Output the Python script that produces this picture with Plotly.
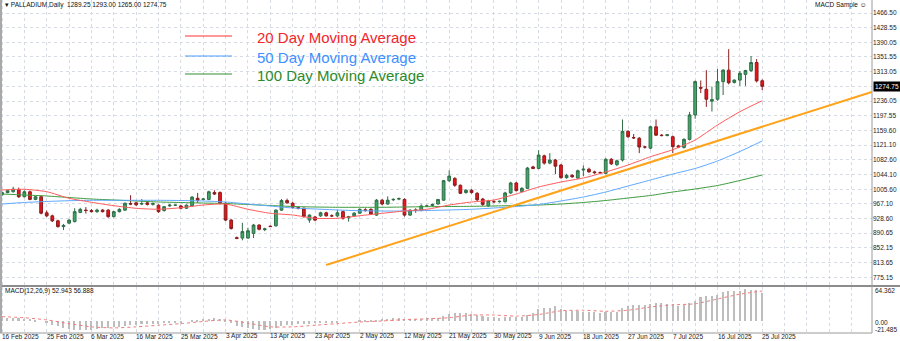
import plotly.graph_objects as go

# ---- daily OHLC, one entry per bar (bar 0 = 16 Feb 2025) ----
opens = [991, 997, 999, 1005, 986, 999, 979, 986, 944, 936,
         923, 908, 917, 921, 945, 951, 950, 947, 951, 951,
         934, 947, 951, 968, 970, 967, 970, 966, 964, 950,
         962, 964, 962, 956, 962, 982, 979, 979, 997, 997,
         969, 925, 879, 878, 878, 890, 912, 900, 909, 910,
         951, 976, 969, 958, 956, 925, 933, 936, 944, 936,
         936, 947, 931, 936, 943, 952, 953, 938, 977, 967,
         978, 980, 979, 938, 951, 950, 962, 963, 967, 977,
         1028, 1034, 1016, 997, 1003, 995, 980, 962, 973, 973,
         973, 996, 1022, 1000, 1008, 1064, 1060, 1093, 1074, 1082,
         1069, 1036, 1042, 1035, 1056, 1058, 1051, 1049, 1047, 1084,
         1070, 1082, 1157, 1141, 1139, 1116, 1113, 1169, 1147, 1146,
         1143, 1119, 1115, 1136, 1200, 1272, 1267, 1236, 1241, 1287,
         1317, 1285, 1291, 1306, 1316, 1337, 1289.25]
highs = [1000, 1003, 1012, 1010, 1003, 1002, 988, 989, 950, 939,
         926, 915, 927, 956, 957, 959, 954, 955, 954, 954,
         949, 956, 971, 990, 973, 980, 975, 971, 966, 962,
         967, 966, 964, 966, 988, 996, 983, 1002, 1003, 1000,
         972, 928, 882, 918, 905, 915, 914, 905, 911, 953,
         980, 981, 973, 961, 958, 940, 936, 947, 947, 940,
         952, 950, 936, 946, 956, 956, 956, 980, 980, 987,
         982, 984, 982, 953, 956, 966, 965, 968, 980, 1030,
         1055, 1037, 1018, 1006, 1006, 998, 983, 978, 977, 976,
         999, 1025, 1025, 1011, 1064, 1067, 1108, 1096, 1100, 1085,
         1072, 1046, 1045, 1057, 1068, 1062, 1054, 1052, 1087, 1087,
         1083, 1188, 1160, 1150, 1142, 1119, 1172, 1188, 1150, 1150,
         1146, 1122, 1139, 1208, 1290, 1290, 1317, 1274, 1320, 1320,
         1372, 1293, 1315, 1318, 1354, 1346, 1293.00]
lows = [988, 995, 997, 983, 984, 977, 977, 940, 933, 920,
        905, 899, 915, 919, 943, 942, 945, 944, 945, 931,
        932, 945, 949, 964, 962, 964, 963, 963, 944, 947,
        960, 962, 953, 954, 960, 970, 977, 977, 991, 966,
        922, 900, 875, 872, 876, 878, 898, 896, 907, 908,
        949, 968, 955, 953, 931, 918, 922, 933, 934, 933,
        933, 926, 921, 933, 941, 947, 939, 936, 964, 965,
        975, 977, 934, 936, 944, 948, 959, 961, 965, 975,
        1025, 1012, 993, 994, 994, 975, 962, 960, 970, 971,
        971, 993, 1000, 998, 1006, 1058, 1058, 1070, 1071, 1045,
        1033, 1033, 1036, 1033, 1040, 1049, 1046, 1046, 1045, 1069,
        1066, 1078, 1140, 1137, 1100, 1112, 1110, 1145, 1144, 1144,
        1100, 1113, 1112, 1133, 1190, 1257, 1221, 1209, 1237, 1252,
        1280, 1282, 1276, 1276, 1312, 1285, 1265.00]
closes = [997, 1002, 1006, 986, 999, 979, 986, 943, 936, 923,
          908, 911, 925, 947, 953, 950, 947, 951, 947, 934,
          947, 953, 969, 967, 965, 968, 966, 968, 947, 960,
          964, 964, 956, 964, 985, 977, 980, 999, 993, 969,
          925, 903, 877, 895, 897, 912, 901, 902, 908, 951,
          976, 970, 958, 956, 934, 938, 925, 944, 936, 936,
          944, 930, 934, 943, 953, 950, 941, 977, 967, 977,
          979, 981, 938, 951, 951, 962, 962, 966, 979, 1028,
          1040, 1016, 995, 1003, 997, 978, 966, 975, 973, 974,
          996, 1022, 1002, 1008, 1061, 1060, 1095, 1074, 1082, 1066,
          1036, 1042, 1038, 1054, 1058, 1051, 1049, 1049, 1084, 1072,
          1080, 1157, 1143, 1140, 1116, 1116, 1169, 1147, 1146, 1148,
          1117, 1116, 1136, 1200, 1287, 1270, 1241, 1240, 1287, 1317,
          1284, 1291, 1309, 1316, 1337, 1289, 1274.75]
bars = list(range(len(closes)))

# ---- moving averages, sampled every 4 bars ----
ma_bars = list(range(0, 137, 4))
ma20 = [1003.7, 1005.5, 999.2, 982.0, 971.5, 962.6, 955.8, 953.2, 957.4, 964.4,
        967.0, 953.2, 942.7, 938.3, 929.6, 929.6, 936.4, 942.7, 948.7, 953.2,
        964.4, 972.3, 977.5, 993.2, 1011.5, 1024.6, 1035.0, 1050.7, 1069.0, 1090.7,
        1109.0, 1134.4, 1173.6, 1208.4, 1237.2]
ma50 = [967.0, 971.0, 973.6, 975.7, 976.7, 976.7, 976.7, 976.7, 976.2, 974.9,
        972.3, 967.0, 961.8, 956.6, 954.0, 951.4, 949.5, 948.7, 948.7, 950.0,
        951.4, 953.2, 956.6, 960.5, 965.7, 974.9, 985.3, 998.4, 1014.1, 1029.8,
        1045.5, 1059.9, 1079.5, 1104.3, 1131.8]
ma100 = [993.2, 990.6, 988.0, 984.0, 980.1, 977.5, 974.9, 972.3, 970.9, 969.6,
         968.3, 965.7, 963.1, 960.5, 959.2, 958.4, 958.4, 958.4, 959.2, 960.0,
         960.5, 961.0, 961.8, 963.1, 964.4, 967.0, 971.0, 976.2, 982.7, 989.3,
         998.4, 1006.3, 1015.4, 1028.5, 1042.9]

# ---- trend line anchors (bar index, price) ----
trend_bars = [58, 155.6]
trend_prices = [807.5, 1260.0]

# ---- MACD(12,26,9) ----
macd_main = [7, 7, 6, 6, 5, 4, 3, 0, -3, -6,
             -9, -12, -14, -15, -16, -16, -15, -14, -13, -12,
             -11, -10, -9, -7, -6, -5, -4, -4, -4, -3,
             -3, -2, -1, 0, 2, 3, 4, 5, 6, 5,
             2, -3, -8, -11, -13, -14, -15, -15, -14, -12,
             -9, -7, -6, -5, -5, -4, -3, -2, -2, -1,
             -1, 0, 0, 0, 1, 1, 1, 3, 4, 5,
             6, 6, 5, 5, 5, 5, 6, 6, 7, 10,
             14, 15, 15, 15, 14, 12, 10, 8, 9, 6,
             8, 9, 8, 9, 12, 15, 23, 25, 26, 28,
             24, 20, 20, 20, 18, 18, 17, 15, 18, 18,
             18, 25, 29, 31, 31, 31, 33, 34, 34, 33,
             33, 28, 30, 34, 39, 45, 47, 48, 50, 55,
             57, 57, 57, 60, 59, 58, 52.943]
signal_bars = list(range(0, 137, 4))
macd_signal = [9, 7, 3, -4, -10, -12, -10, -7, -4, 0,
               3, -3, -10, -10, -7, -4, -1, 1, 3.5, 5,
               7, 12, 12, 10, 13, 20, 21, 19, 21, 27,
               31, 33, 42, 51, 56.888]

# ---- axis labels ----
date_ticks = list(range(0, 137, 8))
date_labels = ["16 Feb 2025", "25 Feb 2025", "6 Mar 2025", "16 Mar 2025", "25 Mar 2025",
               "3 Apr 2025", "13 Apr 2025", "23 Apr 2025", "2 May 2025", "12 May 2025",
               "21 May 2025", "30 May 2025", "9 Jun 2025", "18 Jun 2025", "27 Jun 2025",
               "7 Jul 2025", "16 Jul 2025", "25 Jul 2025"]
price_ticks = [1466.50, 1428.55, 1390.05, 1351.55, 1313.05, 1274.75, 1236.05, 1197.55,
               1159.60, 1121.10, 1082.60, 1044.10, 1005.60, 967.10, 928.60, 890.65,
               852.15, 813.65, 775.15]
macd_range = [-21.485, 64.362]
macd_tick_text = ["64.362", "0.00", "-21.485"]

W, H = 900, 341
MB = 8
PH = H - MB              # plotting height in px
PLOT_R = 872             # right edge of the chart panes in px
MAIN_BOTTOM = 285
MACD_TOP = 287

FONT = "Liberation Sans, Arial, sans-serif"
GRID = "#d6dbe4"
last_close = closes[-1]


def py(px):
    return 1 - px / PH


fig = go.Figure()

fig.add_trace(go.Candlestick(
    x=bars, open=opens, high=highs, low=lows, close=closes,
    increasing=dict(fillcolor="#3fa869", line=dict(color="#2f6d47", width=1)),
    decreasing=dict(fillcolor="#e8141b", line=dict(color="#8a1d1d", width=1)),
    whiskerwidth=0, showlegend=False, hoverinfo="skip",
    xaxis="x", yaxis="y"))

for vals, col in ((ma100, "#3d9a3d"), (ma50, "#5ea8ff"), (ma20, "#ff5a5a")):
    fig.add_trace(go.Scatter(x=ma_bars, y=vals, mode="lines",
                             line=dict(color=col, width=1, shape="spline", smoothing=0.6),
                             showlegend=False, hoverinfo="skip", xaxis="x", yaxis="y"))

fig.add_trace(go.Scatter(x=trend_bars, y=trend_prices, mode="lines",
                         line=dict(color="#ffa31a", width=2),
                         showlegend=False, hoverinfo="skip", xaxis="x", yaxis="y"))

fig.add_trace(go.Bar(x=bars, y=macd_main, width=0.28, marker=dict(color="#bdbdbd", line=dict(width=0)),
                     showlegend=False, hoverinfo="skip", xaxis="x2", yaxis="y2"))
fig.add_trace(go.Scatter(x=signal_bars, y=macd_signal, mode="lines",
                         line=dict(color="#f07c7c", width=1, dash="dot", shape="spline", smoothing=0.6),
                         showlegend=False, hoverinfo="skip", xaxis="x2", yaxis="y2"))

x_lo = -2 / 5.59
x_hi = x_lo + PLOT_R / 5.59
dom_x = [0, PLOT_R / W]

axis_common = dict(range=[x_lo, x_hi], domain=dom_x, showline=False, zeroline=False,
                   tickmode="array", tickvals=date_ticks, showticklabels=False, ticks="",
                   showgrid=True, gridcolor=GRID, griddash="dot", gridwidth=1,
                   minor=dict(tickmode="linear", tick0=0, dtick=4, showgrid=True,
                              gridcolor=GRID, griddash="dot", gridwidth=1))

fig.update_layout(
    width=W, height=H,
    margin=dict(l=0, r=0, t=0, b=MB, autoexpand=False),
    paper_bgcolor="white", plot_bgcolor="white",
    bargap=0,
    xaxis=dict(axis_common, anchor="y", rangeslider=dict(visible=False)),
    xaxis2=dict(axis_common, anchor="y2", matches="x"),
    yaxis=dict(domain=[py(MAIN_BOTTOM), 1], range=[1500.5 - 285 * 2.615, 1500.5],
               side="right", anchor="x", tickmode="array", tickvals=price_ticks,
               ticktext=["" if v == last_close else f"{v:.2f}" for v in price_ticks],
               ticks="", ticklen=0,
               showgrid=True, gridcolor=GRID, griddash="dot", zeroline=False,
               tickfont=dict(family=FONT, size=6.5, color="#222")),
    yaxis2=dict(domain=[0, py(MACD_TOP)], range=macd_range, side="right",
                anchor="x2", showticklabels=False, ticks="",
                showgrid=False, zeroline=False),
)

shapes = [
    # pane separators and borders
    dict(type="line", xref="paper", yref="paper", x0=0, x1=1, y0=py(286), y1=py(286),
         line=dict(color="#8c8c8c", width=2)),
    dict(type="line", xref="paper", yref="paper", x0=PLOT_R / W, x1=PLOT_R / W, y0=0, y1=1,
         line=dict(color="#9a9a9a", width=1)),
    dict(type="line", xref="paper", yref="paper", x0=0, x1=PLOT_R / W, y0=0, y1=0,
         line=dict(color="#9a9a9a", width=1)),
    dict(type="rect", xref="paper", yref="paper", x0=0, x1=2 / W, y0=0, y1=1,
         line=dict(width=0), fillcolor="#a8a8a8"),
]
legend_items = [("20 Day Moving Average", "#f2262b", "#ff3030", 37),
                ("50 Day Moving Average", "#3d90ff", "#4a9cff", 57),
                ("100 Day Moving Average", "#2b8a2b", "#2f8f2f", 75)]
annotations = []
for text, tcol, lcol, ypx in legend_items:
    shapes.append(dict(type="line", xref="paper", yref="paper", x0=185 / W, x1=232 / W,
                       y0=py(ypx - 1), y1=py(ypx - 1), line=dict(color=lcol, width=1)))
    annotations.append(dict(x=255 / W, y=py(ypx + 1), xref="paper", yref="paper", text=text,
                            showarrow=False, xanchor="left", yanchor="middle",
                            font=dict(family=FONT, size=15, color=tcol)))

# date labels, left-aligned on their bars under the MACD pane
for b, lab in zip(date_ticks, date_labels):
    annotations.append(dict(x=b, y=py(H), xref="x2", yref="paper", text=lab,
                            showarrow=False, xanchor="left", yanchor="bottom",
                            xshift=-1, borderpad=0,
                            font=dict(family=FONT, size=6.5, color="#222")))

# MACD scale labels: maximum under the pane border, zero line, minimum at the bottom
for t, ypx in zip(macd_tick_text, (290, 322, 329)):
    annotations.append(dict(x=(PLOT_R + 2) / W, y=py(ypx), xref="paper", yref="paper", text=t,
                            showarrow=False, xanchor="left", yanchor="middle",
                            borderpad=0, font=dict(family=FONT, size=6.5, color="#222")))

annotations += [
    dict(x=3 / W, y=py(5), xref="paper", yref="paper", showarrow=False,
         xanchor="left", yanchor="middle",
         text="▾ PALLADIUM,Daily  1289.25 1293.00 1265.00 1274.75",
         font=dict(family=FONT, size=6.5, color="#111")),
    dict(x=868 / W, y=py(5), xref="paper", yref="paper", showarrow=False,
         xanchor="right", yanchor="middle", text="MACD Sample ☺",
         font=dict(family=FONT, size=6.5, color="#111")),
    dict(x=3 / W, y=py(291), xref="paper", yref="paper", showarrow=False,
         xanchor="left", yanchor="middle", text="MACD(12,26,9) 52.943 56.888",
         font=dict(family=FONT, size=6.5, color="#111")),
    dict(x=(PLOT_R + 1) / W, y=last_close, xref="paper", yref="y", showarrow=False,
         xanchor="left", yanchor="middle", text=f"{last_close:.2f}",
         bgcolor="#000000", borderpad=1,
         font=dict(family=FONT, size=6.5, color="#ffffff")),
]

fig.update_layout(shapes=shapes, annotations=annotations)
fig.write_html("out.html")
